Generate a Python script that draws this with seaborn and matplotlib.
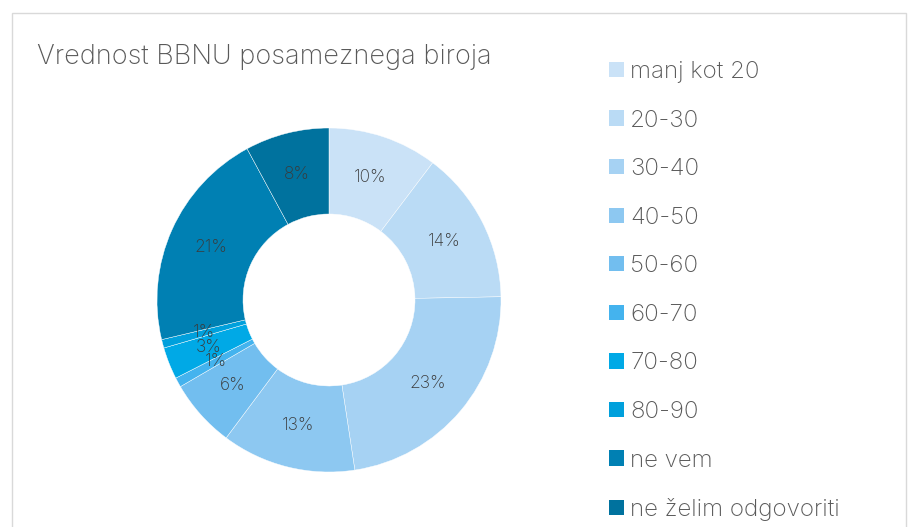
import matplotlib
matplotlib.use("Agg")
import matplotlib.pyplot as plt
import matplotlib.patches as mpatches
import seaborn as sns

categories = ["manj kot 20", "20-30", "30-40", "40-50", "50-60", "60-70",
              "70-80", "80-90", "ne vem", "ne želim odgovoriti"]
shares = [10.3, 14.4, 22.9, 12.6, 6.4, 0.9, 3.0, 0.8, 20.8, 7.9]
colors = ["#CAE2F7", "#BADBF5", "#A6D2F3", "#8DC8F1", "#72BEEF", "#44B3EE",
          "#00A9E6", "#00A0DC", "#0080B3", "#00729E"]
title = "Vrednost BBNU posameznega biroja"

sns.set_theme(style="white")
plt.rcParams['font.family'] = ['Inter', 'DejaVu Sans']
text_color = "#595959"
label_color = "#3A3A3A"

W, H = 911, 527
fig = plt.figure(figsize=(W / 100, H / 100), dpi=100)
fig.patch.set_facecolor("white")

# frame border
frame = mpatches.Rectangle((12 / W, -0.05), (906 - 12) / W, (H - 13) / H + 0.05,
                           transform=fig.transFigure, fill=False,
                           edgecolor="#D9D9D9", linewidth=1.0)
fig.patches.append(frame)

cx, cy, R = 329, 300, 172
ax = fig.add_axes([(cx - R) / W, (H - cy - R) / H, 2 * R / W, 2 * R / H])
wedges, texts, autotexts = ax.pie(
    shares, colors=colors, startangle=90, counterclock=False, radius=1.0,
    autopct="%.0f%%", pctdistance=0.75,
    wedgeprops=dict(width=0.5, edgecolor="white", linewidth=0.3),
    textprops=dict(color=label_color, fontsize=12.5, fontweight="light"))
ax.set_xlim(-1, 1)
ax.set_ylim(-1, 1)
ax.set_aspect("equal")
ax.axis("off")

fig.text(37 / W, 1 - 64 / H, title, fontsize=19.5, color=text_color,
         ha="left", va="baseline", fontweight="light")

handles = [mpatches.Patch(facecolor=c, edgecolor="none") for c in colors]
leg = fig.legend(handles, categories, loc="upper left",
                 bbox_to_anchor=(609 / W, 1 - 61 / H), frameon=False,
                 prop=dict(size=17.4, weight="light"),
                 labelspacing=1.1, handlelength=0.6,
                 handleheight=0.6, handletextpad=0.28, borderaxespad=0,
                 borderpad=0)
for t in leg.get_texts():
    t.set_color(text_color)

fig.savefig("out.png", dpi=100, facecolor="white")
